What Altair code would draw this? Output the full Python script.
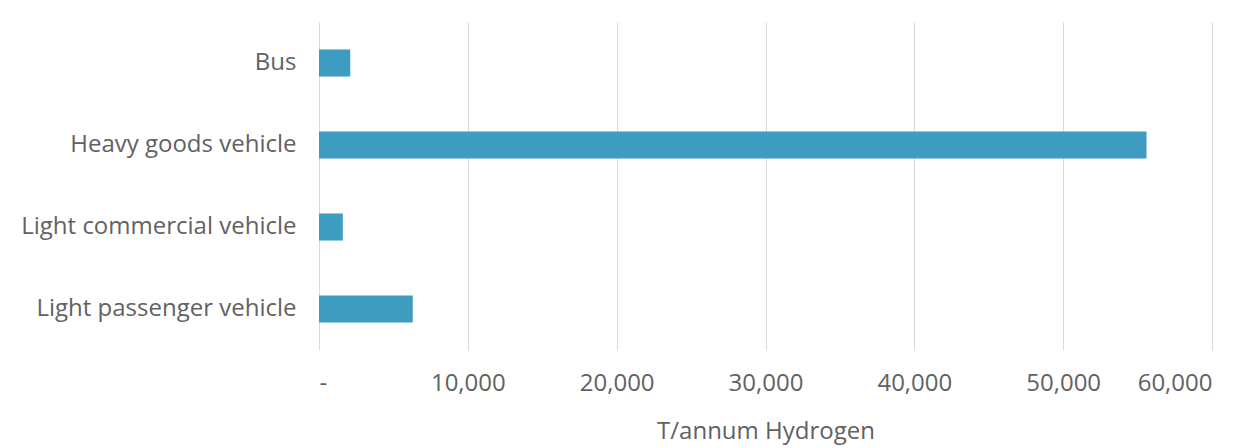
import altair as alt
import pandas as pd

categories = ["Bus", "Heavy goods vehicle", "Light commercial vehicle", "Light passenger vehicle"]
values = [2100, 55600, 1600, 6300]
x_ticks = [0, 10000, 20000, 30000, 40000, 50000, 60000]

df = pd.DataFrame({"category": categories, "value": values})

FONT = "Open Sans"
GRAY = "#626262"

chart = (
    alt.Chart(df)
    .mark_bar(color="#3d9cc0")
    .encode(
        x=alt.X(
            "value:Q",
            scale=alt.Scale(domain=[0, 60000], nice=False),
            axis=alt.Axis(
                title="T/annum Hydrogen",
                values=x_ticks,
                labelExpr="datum.value == 0 ? '-' : format(datum.value, ',')",
                grid=True,
                gridColor="#d9d9d9",
                domain=False,
                ticks=False,
                labelPadding=21,
                labelFontSize=24,
                labelColor=GRAY,
                labelFont=FONT,
                titleFont=FONT,
                titleFontSize=24,
                titleFontWeight="normal",
                titleColor=GRAY,
                titlePadding=24,
            ),
        ),
        y=alt.Y(
            "category:N",
            sort=categories,
            scale=alt.Scale(paddingInner=0.67, paddingOuter=0.335),
            axis=alt.Axis(
                title=None,
                domain=False,
                ticks=False,
                labelPadding=23,
                labelFontSize=24,
                labelLimit=400,
                labelColor=GRAY,
                labelFont=FONT,
            ),
        ),
    )
    .properties(
        width=893,
        height=328,
        autosize=alt.AutoSizeParams(type="none"),
        padding={"left": 311, "top": 14, "right": 30, "bottom": 96},
    )
    .configure(background="white")
    .configure_view(stroke=None)
)

chart.save("out.html", embed_options={"renderer": "svg", "actions": False})
